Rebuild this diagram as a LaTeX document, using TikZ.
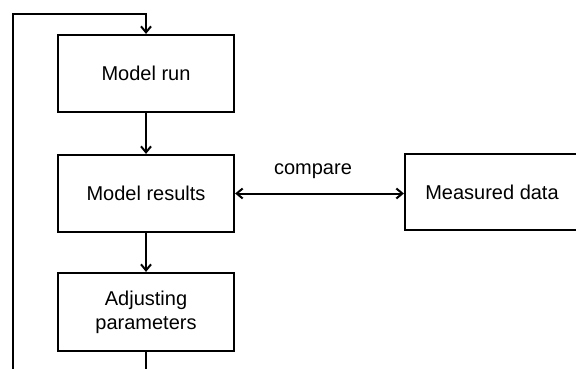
\documentclass[tikz,border=0pt]{standalone}
\usepackage{fontspec}
\setmainfont{Liberation Sans}
\usetikzlibrary{arrows.meta}
\begin{document}
\begin{tikzpicture}[x=1pt,y=-1pt,
  box/.style={draw=black,line width=2.2pt,fill=white,minimum width=176pt,minimum height=77pt,inner sep=0pt,align=center,font=\fontsize{20}{24}\selectfont},
  arr/.style={line width=2pt,-{Straight Barb[length=6pt,width=10pt,line width=2pt]}},
  lbl/.style={font=\fontsize{20}{24}\selectfont,inner sep=0pt}]
\useasboundingbox (0,0) rectangle (576,369);
\clip (0,0) rectangle (576,369);
\fill[white] (0,0) rectangle (576,369);
\node[box] (run) at (146,73.5) {Model run};
\node[box] (res) at (146,193.5) {Model results};
\node[box,minimum height=78pt] (adj) at (146,312) {Adjusting\\parameters};
\node[box,minimum width=174pt,minimum height=76pt] (meas) at (492,192) {Measured data};
\coordinate (tl) at (13,14);
\coordinate (bl) at (13,395);
\draw[arr] (run) -- (res);
\draw[arr] (res) -- (adj);
\draw[arr,{Straight Barb[length=6pt,width=10pt,line width=2pt]}-{Straight Barb[length=6pt,width=10pt,line width=2pt]}] (res.east) -- (meas.west |- res.east) coordinate (me);
\node[lbl] (cmp) at (313,171) {compare};
\draw[arr] (adj.south) |- (bl) -- (tl) -| (run.north);
\end{tikzpicture}
\end{document}
